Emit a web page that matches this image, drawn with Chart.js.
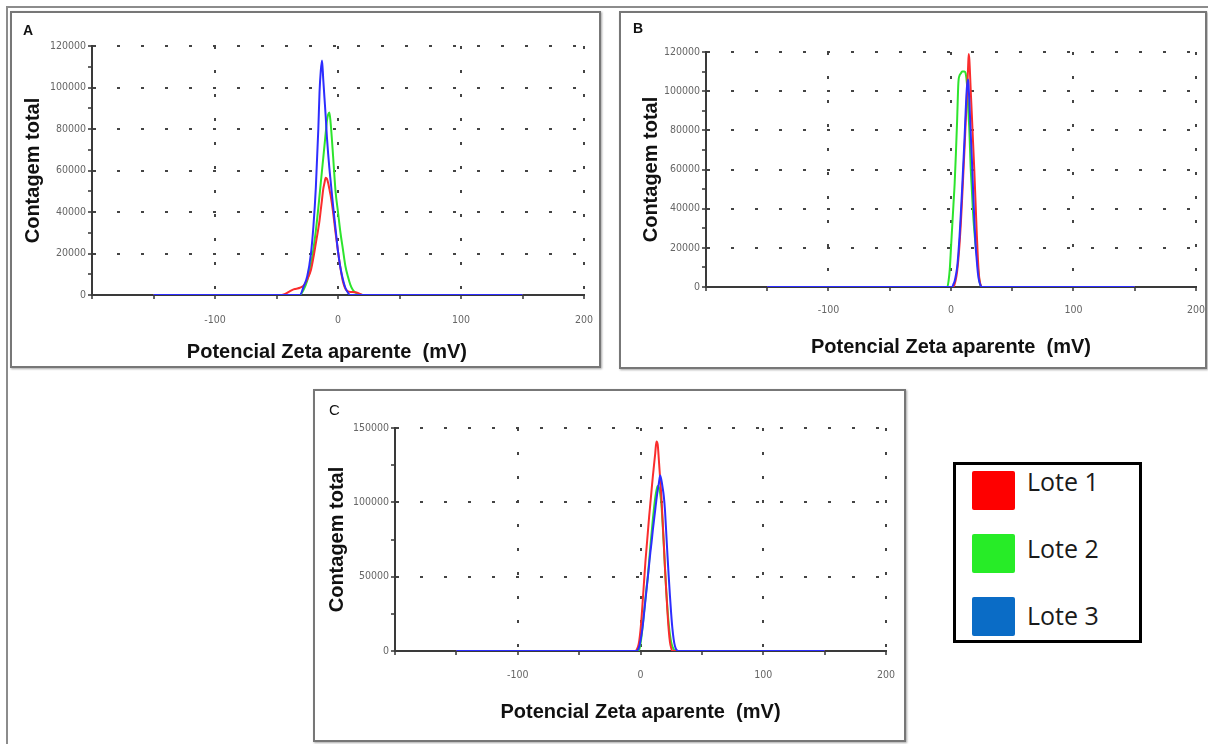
<!DOCTYPE html>
<html>
<head>
<meta charset="utf-8">
<script src="https://cdn.jsdelivr.net/npm/chart.js@4.4.0/dist/chart.umd.min.js"></script>
<style>
html,body{margin:0;padding:0;background:#fff;}
body{width:1208px;height:744px;position:relative;overflow:hidden;font-family:'Liberation Sans',Arial,sans-serif;}
.outer{position:absolute;left:6px;top:6px;width:1220px;height:760px;border-top:2px solid #8c8c8c;border-left:2px solid #8c8c8c;}
.panel{position:absolute;border:2px solid #777;box-shadow:1px 1px 2px rgba(0,0,0,0.35);background:#fff;box-sizing:border-box;overflow:hidden;}
.panel canvas{position:absolute;left:0;top:0;}
.letter{position:absolute;font-size:14px;line-height:14px;color:#111;}
.legend{position:absolute;left:953px;top:462px;width:189px;height:181px;border:3px solid #000;box-sizing:border-box;background:#fff;}
.sw{position:absolute;left:16px;width:43px;height:39px;border-radius:2px;}
.lt{position:absolute;left:71px;font-family:'Open Sans',sans-serif;font-size:25px;line-height:25px;color:#1a1a1a;white-space:nowrap;}
</style>
</head>
<body>
<div class="outer"></div>
<div class="panel" style="left:10px;top:11px;width:591px;height:357px;"><canvas id="cA" width="587" height="353"></canvas></div>
<div class="panel" style="left:619px;top:11px;width:588px;height:358px;"><canvas id="cB" width="584" height="354"></canvas></div>
<div class="panel" style="left:313px;top:389px;width:593px;height:353px;"><canvas id="cC" width="589" height="349"></canvas></div>
<div class="letter" style="left:23px;top:23px;font-weight:bold;">A</div>
<div class="letter" style="left:633px;top:21px;font-weight:bold;">B</div>
<div class="letter" style="left:329px;top:403px;font-size:15px;">C</div>
<div class="legend" id="legend"></div>
<script>
// ---- data ----
const seriesNames = ['Lote 1', 'Lote 2', 'Lote 3'];
const xAxisTitle = 'Potencial Zeta aparente  (mV)';
const yAxisTitle = 'Contagem total';
const xLabelValues = [-100, 0, 100, 200];
const yLabelsAB = [0, 20000, 40000, 60000, 80000, 100000, 120000];
const yLabelsC = [0, 50000, 100000, 150000];

// Panel A
const xA = [-150, -46, -43, -40, -37, -34, -31, -28, -25, -22, -20, -18, -16, -15, -14, -13, -12, -11, -10, -9, -8, -7, -6, -4, -2, 0, 2, 4, 6, 8, 10, 12, 14, 16, 18, 20, 22, 150];
const lote1A = [0, 0, 500, 1500, 2500, 3000, 3500, 4500, 7500, 12000, 18000, 25000, 32000, 36000, 41000, 46000, 51000, 54000, 56500, 56000, 54000, 51000, 48000, 40000, 30000, 21000, 13000, 6500, 3000, 1800, 1500, 1500, 1300, 1000, 500, 0, 0, 0];
const lote2A = [0, 0, 0, 0, 0, 0, 0, 2500, 7000, 15000, 22000, 31000, 42000, 48000, 54000, 60000, 66000, 72000, 78000, 84000, 87000, 88000, 83000, 67000, 50000, 40000, 30000, 22000, 14000, 9000, 5000, 2500, 1200, 600, 200, 0, 0, 0];
const lote3A = [0, 0, 0, 0, 0, 0, 0, 4000, 9000, 20000, 33000, 52000, 80000, 98000, 108000, 113000, 104000, 95000, 86000, 76000, 68000, 61000, 55000, 43000, 32000, 21000, 13000, 7500, 3500, 1200, 0, 0, 0, 0, 0, 0, 0, 0];

// Panel B
const xB = [-150, -5, -3, -2, -1, 0, 1, 2, 3, 4, 5, 6, 7, 8, 9, 10, 11, 12, 13, 14, 14.5, 15, 16, 17, 18, 19, 20, 21, 22, 23, 24, 25, 27, 150];
const lote1B = [0, 0, 0, 0, 0, 0, 0, 0, 1500, 4000, 8000, 14000, 22000, 32000, 44000, 57000, 70000, 84000, 98000, 113000, 119000, 116000, 102000, 88000, 74000, 60000, 44000, 28000, 14000, 5000, 1500, 0, 0, 0];
const lote2B = [0, 0, 0, 3000, 9000, 20000, 31000, 42000, 53000, 68000, 85000, 104000, 108000, 109000, 110000, 110000, 110000, 109000, 104000, 92000, 86000, 80000, 62000, 50000, 38000, 29000, 22000, 17000, 10000, 4000, 1000, 0, 0, 0];
const lote3B = [0, 0, 0, 0, 0, 0, 0, 1500, 3000, 6000, 10000, 17000, 26000, 37000, 49000, 62000, 75000, 90000, 102000, 106000, 101000, 95000, 80000, 66000, 50000, 35000, 22000, 14000, 7000, 3000, 1000, 0, 0, 0];

// Panel C
const xC = [-150, -5, -4, -3, -2, -1, 0, 1, 2, 3, 4, 5, 6, 7, 8, 9, 10, 11, 12, 13, 14, 15, 16, 17, 18, 19, 20, 21, 22, 23, 24, 25, 26, 27, 28, 29, 30, 31, 32, 150];
const lote1C = [0, 0, 0, 1000, 3000, 7000, 14000, 24000, 36000, 48000, 60000, 70000, 80000, 90000, 99000, 108000, 117000, 125000, 133000, 141000, 139000, 128000, 116000, 104000, 88000, 72000, 55000, 40000, 26000, 14000, 6000, 2000, 0, 0, 0, 0, 0, 0, 0, 0];
const lote2C = [0, 0, 0, 0, 0, 1000, 5000, 11000, 19000, 27000, 35000, 43000, 50000, 60000, 70000, 79000, 88000, 96000, 103000, 108000, 111000, 110000, 106000, 99000, 86000, 71000, 55000, 40000, 28000, 18000, 11000, 6000, 3000, 1200, 400, 0, 0, 0, 0, 0];
const lote3C = [0, 0, 0, 0, 1000, 3000, 7000, 12000, 18000, 26000, 34000, 42000, 50000, 58000, 66000, 73000, 81000, 88000, 95000, 102000, 108000, 113000, 118000, 115000, 110000, 104000, 94000, 79000, 64000, 50000, 37000, 25000, 15000, 8000, 3500, 1200, 300, 0, 0, 0];

// ---- styles ----
const lineColors = ['rgb(250,45,45)', 'rgb(45,228,45)', 'rgb(45,45,255)'];
const lineOrder = [1, 2, 0];
const legendColors = ['#fe0000', '#27ec27', '#0a6cc6'];
const tickFamily = "'DejaVu Sans Condensed','Liberation Sans',sans-serif";
const titleFont = {family: "'Liberation Sans',Arial,sans-serif", size: 20, weight: 'bold'};

function makeChart(id, xs, series, yMax, yStep, yLabels, g) {
  const datasets = series.map((vals, i) => ({
    label: seriesNames[i],
    data: xs.map((x, j) => ({x: x, y: vals[j]})),
    borderColor: lineColors[i],
    borderWidth: 2,
    pointRadius: 0,
    fill: false,
    order: lineOrder[i],
    cubicInterpolationMode: 'monotone'
  }));
  return new Chart(document.getElementById(id), {
    type: 'line',
    data: {datasets: datasets},
    options: {
      responsive: false,
      animation: false,
      devicePixelRatio: 1,
      layout: {padding: {top: g.top, right: g.right, left: 0, bottom: 0}},
      plugins: {legend: {display: false}, tooltip: {enabled: false}},
      scales: {
        x: {
          type: 'linear', min: -200, max: 200,
          ticks: {stepSize: 50, autoSkip: false, maxRotation: 0, color: '#666',
                  font: {family: tickFamily, size: 10.5, lineHeight: 3.6}, padding: g.xp,
                  callback: v => xLabelValues.includes(v) ? String(v) : ''},
          grid: {color: c => (c.tick && c.tick.value % 100 === 0 && c.tick.value > -200) ? '#444' : 'rgba(0,0,0,0)',
                 lineWidth: 2, tickLength: 4, tickColor: '#333', tickWidth: 1.5},
          border: {color: '#3a3a3a', width: 2, dash: [3, 21]},
          title: {display: true, text: xAxisTitle + g.tail, color: '#111', font: titleFont, padding: {top: 0, bottom: g.xt}},
          afterFit: s => { s.height = g.xh; }
        },
        y: {
          type: 'linear', min: 0, max: yMax,
          ticks: {stepSize: yStep, autoSkip: false, color: '#666', font: {family: tickFamily, size: 10.5}, padding: 2,
                  callback: v => yLabels.includes(v) ? String(v) : ''},
          grid: {color: c => (c.tick && yLabels.includes(c.tick.value)) ? '#444' : 'rgba(0,0,0,0)',
                 lineWidth: 2, tickLength: 4, tickColor: '#333', tickWidth: 1.5},
          border: {color: '#3a3a3a', width: 2, dash: [3, 21]},
          title: {display: true, text: yAxisTitle, color: '#111', font: titleFont, padding: {top: g.yt, bottom: 0}},
          afterFit: s => { s.width = g.yw; }
        }
      }
    }
  });
}

makeChart('cA', xA, [lote1A, lote2A, lote3A], 120000, 10000, yLabelsAB, {top: 33, right: 15, xh: 71, yw: 80, xt: 2, yt: 9, xp: 2, tail: '    '});
makeChart('cB', xB, [lote1B, lote2B, lote3B], 120000, 10000, yLabelsAB, {top: 39, right: 9, xh: 80, yw: 85, xt: 8, yt: 18, xp: 0, tail: ''});
makeChart('cC', xC, [lote1C, lote2C, lote3C], 150000, 25000, yLabelsC, {top: 37, right: 18, xh: 89, yw: 80, xt: 16, yt: 10, xp: 1, tail: ''});

// legend
const lg = document.getElementById('legend');
seriesNames.forEach((name, i) => {
  const sw = document.createElement('div');
  sw.className = 'sw';
  sw.style.top = (6 + i * 63) + 'px';
  sw.style.background = legendColors[i];
  lg.appendChild(sw);
  const t = document.createElement('div');
  t.className = 'lt';
  t.style.top = (4 + i * 67) + 'px';
  t.textContent = name;
  lg.appendChild(t);
});
</script>
</body>
</html>
